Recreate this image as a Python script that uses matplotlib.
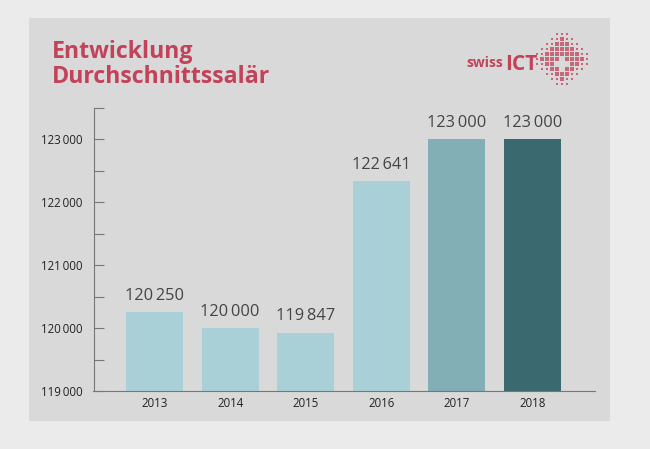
import matplotlib
matplotlib.use('Agg')
import matplotlib.pyplot as plt
import numpy as np
from matplotlib.patches import Rectangle

plt.rcParams['font.family'] = ['Open Sans', 'DejaVu Sans']

years = ['2013', '2014', '2015', '2016', '2017', '2018']
# bar heights as drawn in the picture, they do not quite follow the printed labels
bar_heights = [120250, 120000, 119925, 122340, 123000, 123000]
salary_labels = ['120\u2009250', '120\u2009000', '119\u2009847', '122\u2009641', '123\u2009000', '123\u2009000']
bar_colors = ['#a9d0d6', '#a9d0d6', '#a9d0d6', '#a9d0d6', '#82aeb6', '#3a6a6f']
major_ticks = [119000, 120000, 121000, 122000, 123000]
major_labels = ['119\u2009000', '120\u2009000', '121\u2009000', '122\u2009000', '123\u2009000']
minor_ticks = [119500, 120500, 121500, 122500, 123500]

W, H = 650, 449
RED = '#c2425a'

fig = plt.figure(figsize=(W / 100, H / 100), dpi=100, facecolor='#ebebeb')

# grey panel behind everything
fig.add_artist(Rectangle((29 / W, 1 - 421 / H), 581 / W, 403 / H, transform=fig.transFigure,
                         facecolor='#d9d9d9', edgecolor='none', zorder=-1))

ax = fig.add_axes([93.5 / W, 1 - 391 / H, 501.5 / W, 283 / H])
ax.patch.set_alpha(0)
x = np.arange(len(years))
ax.bar(x, bar_heights, width=0.755, color=bar_colors)
ax.set_xlim(-0.807, 5.827)
ax.set_ylim(119000, 123500)

for i in x:
    ax.annotate(salary_labels[i], (i, bar_heights[i]), xytext=(0, 6), textcoords='offset points',
                ha='center', va='bottom', fontsize=11.8, color='#444444')

ax.spines['top'].set_visible(False)
ax.spines['right'].set_visible(False)
ax.spines['left'].set_color('#777777')
ax.spines['bottom'].set_color('#777777')
ax.set_xticks(x, years)
ax.tick_params(axis='x', length=0, pad=4.3, labelsize=8.3, labelcolor='#222222')
ax.set_yticks(major_ticks, major_labels)
ax.set_yticks(minor_ticks, minor=True)
ax.tick_params(axis='y', which='both', direction='in', length=7.5, width=0.8, color='#777777',
               labelsize=8.3, labelcolor='#222222', pad=8)

fig.text(52 / W, 1 - 57.5 / H, 'Entwicklung', color=RED, fontsize=16.7, fontweight='bold', va='baseline')
fig.text(52 / W, 1 - 82.5 / H, 'Durchschnittssalär', color=RED, fontsize=16.7, fontweight='bold', va='baseline')

# logo: wordmark and a diamond of square dots with a cross left open
fig.text(466 / W, 1 - 67 / H, 'swiss', color=RED, fontsize=10, fontweight='bold', va='baseline')
fig.text(505 / W, 1 - 70 / H, 'ICT', color=RED, fontsize=15, fontweight='bold', va='baseline')
logo = fig.add_axes([0, 0, 1, 1])
logo.set_xlim(0, W)
logo.set_ylim(H, 0)
logo.axis('off')
cx, cy, step = 562, 59, 5
gx, gy = np.meshgrid(np.arange(-5, 6), np.arange(-5, 6))
dist = np.abs(gx) / 6.5 + np.abs(gy) / 6.5
cross = ((np.abs(gx) <= 1) & (gy == 1)) | ((np.abs(gy - 1) <= 1) & (gx == 0))
keep = (dist <= 1.05) & ~cross
logo.scatter(cx + gx[keep] * step, cy + gy[keep] * step, s=np.clip(1.1 - dist[keep], 0.1, 1) * 8 + 0.8,
             marker='s', color=RED, alpha=0.75, linewidths=0)

fig.savefig('out.png', dpi=100, facecolor=fig.get_facecolor())
